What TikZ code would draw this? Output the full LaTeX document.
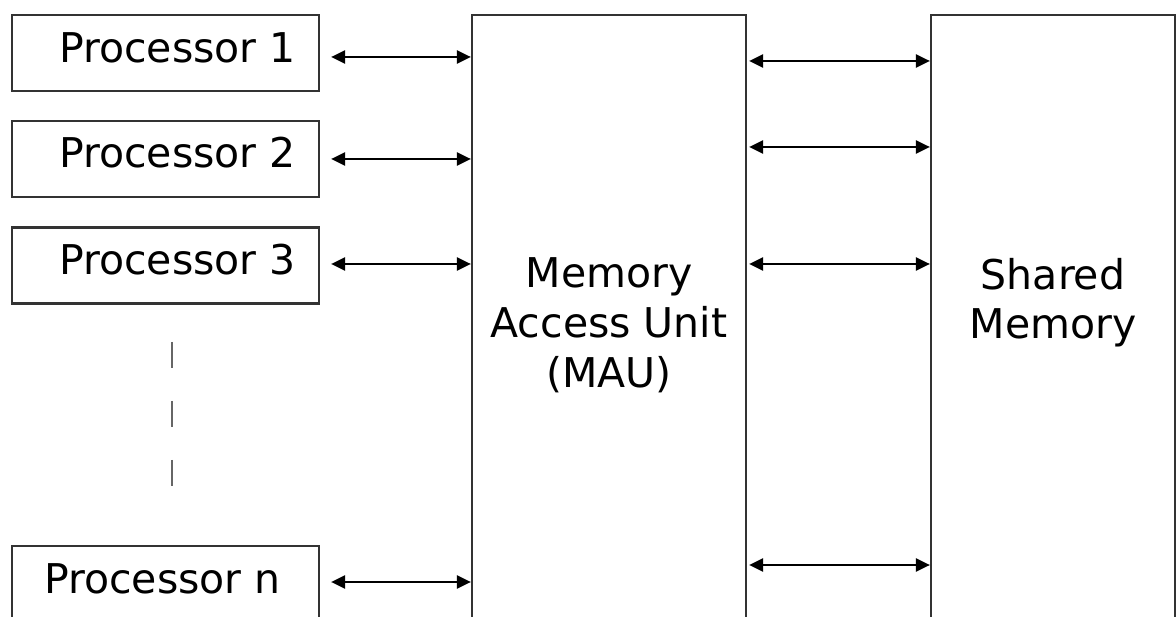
\documentclass[tikz,border=0pt]{standalone}
\usepackage{fontspec}
\setmainfont{DejaVu Sans}
\usetikzlibrary{arrows.meta}
\begin{document}
\begin{tikzpicture}[x=1pt,y=-1pt,
  box/.style={draw=black!80, line width=2.2pt, inner sep=0pt},
  cpu/.style={box, minimum width=307pt, minimum height=76pt},
  tall/.style={box, minimum height=685pt},
  lbl/.style={inner sep=0pt, text=black, font=\fontsize{41}{50}\selectfont},
  link/.style={line width=2.4pt, {Triangle[length=14pt,width=13pt]}-{Triangle[length=14pt,width=13pt]}}]
\useasboundingbox (0,0) rectangle (1176,617);
\fill[white] (0,0) rectangle (1176,617);
\clip (0,0) rectangle (1176,617);

% processor boxes
\node[cpu] (p1) at (165.5,53) {};
\node[cpu] (p2) at (165.5,159) {};
\node[cpu] (p3) at (165.5,265.5) {};
\node[cpu] (pn) at (165.5,584) {};

% memory access unit and shared memory (open at the bottom)
\node[tall, minimum width=274pt] (mau) at (609,357.5) {};
\node[tall, minimum width=244pt] (sm) at (1053,357.5) {};

% labels
\node[lbl, anchor=base west] (t1) at (59,63) {Processor 1};
\node[lbl, anchor=base west] (t2) at (59,168) {Processor 2};
\node[lbl, anchor=base west] (t3) at (59,275) {Processor 3};
\node[lbl, anchor=base west] (tn) at (44,593) {Processor n};
\node[lbl, anchor=north, align=center] (maut) at (609,257) {Memory\\Access Unit\\(MAU)};
\node[lbl, anchor=north, align=center, font=\fontsize{41}{49}\selectfont] (smt) at (1053,258) {Shared\\Memory};

% elision marks between processor 3 and processor n
\draw[line width=2.8pt, black!60, dash pattern=on 26pt off 33pt] (172,342) -- (172,487);

% heights of the links
\coordinate (l1) at (0,57);
\coordinate (l2) at (0,159);
\coordinate (l3) at (0,264);
\coordinate (l4) at (0,582);
\coordinate (r1) at (0,61);
\coordinate (r2) at (0,147);
\coordinate (r3) at (0,264);
\coordinate (r4) at (0,565);

% processor <-> MAU
\draw[link] ([xshift=11pt]p1.east |- l1) -- (mau.west |- l1);
\draw[link] ([xshift=11pt]p2.east |- l2) -- (mau.west |- l2);
\draw[link] ([xshift=11pt]p3.east |- l3) -- (mau.west |- l3);
\draw[link] ([xshift=11pt]pn.east |- l4) -- (mau.west |- l4);

% MAU <-> shared memory
\draw[link] ([xshift=2pt]mau.east |- r1) -- (sm.west |- r1);
\draw[link] ([xshift=2pt]mau.east |- r2) -- (sm.west |- r2);
\draw[link] ([xshift=2pt]mau.east |- r3) -- (sm.west |- r3);
\draw[link] ([xshift=2pt]mau.east |- r4) -- (sm.west |- r4);
\end{tikzpicture}
\end{document}
